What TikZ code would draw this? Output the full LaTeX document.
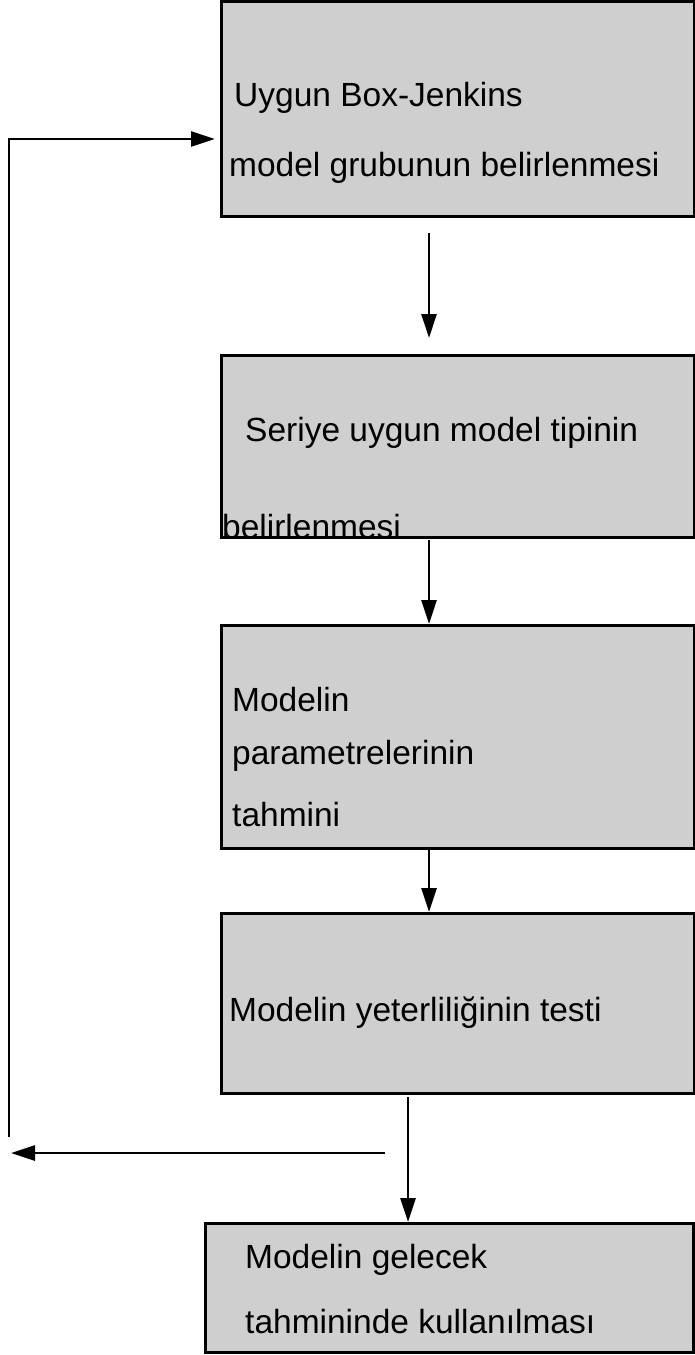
\documentclass[tikz,border=0pt]{standalone}
\usepackage{fontspec}
\setmainfont{Liberation Sans}
\usetikzlibrary{positioning, arrows.meta}

\begin{document}
\begin{tikzpicture}[x=1pt, y=1pt, node distance=2cm]
% Define block styles
\tikzstyle{block} = [rectangle, draw, line width=3pt, fill=black!19,
    minimum width=473pt, inner sep=0pt, outer sep=0pt]
\tikzstyle{txt} = [anchor=base west, inner sep=0pt, font=\fontsize{33.5}{40}\selectfont]
\tikzstyle{line} = [draw, line width=2.8pt, -{Triangle[length=24pt, width=15pt]}]
\useasboundingbox (0,0) rectangle (695,-1355);
    % Place nodes
    \node [block, minimum height=215pt] (uygun) at (457.5,-108.5) {};
    \node [block, minimum height=182pt, below of=uygun, node distance=337.5pt] (seriye) {};
    \node [block, minimum height=223pt, below of=seriye, node distance=290.5pt] (parametre) {};
    \node [block, minimum height=180pt, below of=parametre, node distance=266.5pt] (yeterlilik) {};
    \node [block, minimum height=129pt, minimum width=488pt, below of=yeterlilik,
        node distance=284.5pt, xshift=-8.5pt] (kullanim) {};
    % Texts
    \node [txt] (uygun1) at ([xshift=13pt, yshift=-105pt]uygun.north west) {Uygun Box-Jenkins};
    \node [txt] (uygun2) at ([xshift=8pt, yshift=-175pt]uygun.north west) {model grubunun belirlenmesi};
    \node [txt] (seriye1) at ([xshift=24pt, yshift=-86pt]seriye.north west) {Seriye uygun model tipinin};
    \node [txt] (seriye2) at ([xshift=1pt, yshift=-183pt]seriye.north west) {belirlenmesi};
    \node [txt] (parametre1) at ([xshift=11pt, yshift=-86pt]parametre.north west) {Modelin};
    \node [txt] (parametre2) at ([xshift=11pt, yshift=-139pt]parametre.north west) {parametrelerinin};
    \node [txt] (parametre3) at ([xshift=11pt, yshift=-201pt]parametre.north west) {tahmini};
    \node [txt] (yeterlilik1) at ([xshift=8pt, yshift=-108pt]yeterlilik.north west) {Modelin yeterliliğinin testi};
    \node [txt] (kullanim1) at ([xshift=40pt, yshift=-45pt]kullanim.north west) {Modelin gelecek};
    \node [txt] (kullanim2) at ([xshift=40pt, yshift=-110pt]kullanim.north west) {tahmininde kullanılması};
    % Connectors
    \path [line, shorten <=17pt, shorten >=17pt] ([xshift=-28.5pt]uygun.south) -- ([xshift=-28.5pt]seriye.north);
    \path [line, shorten <=3pt, shorten >=1pt] ([xshift=-28.5pt]seriye.south) -- ([xshift=-28.5pt]parametre.north);
    \path [line, shorten <=2pt, shorten >=1pt] ([xshift=-28.5pt]parametre.south) -- ([xshift=-28.5pt]yeterlilik.north);
    \path [line, shorten <=4pt, shorten >=1pt] ([xshift=-49.5pt]yeterlilik.south) -- ([xshift=-41pt]kullanim.north);
    % Feedback loop
    \coordinate (geri) at (385,-1153);
    \coordinate (sol) at (11,-1153);
    \coordinate (alt) at (9,-1137);
    \coordinate (ust) at (9,-139);
    \path [line] (geri) -- (sol);
    \path [line, shorten >=6pt] (alt) -- (ust) -- (uygun.west |- ust);
\end{tikzpicture}
\end{document}
